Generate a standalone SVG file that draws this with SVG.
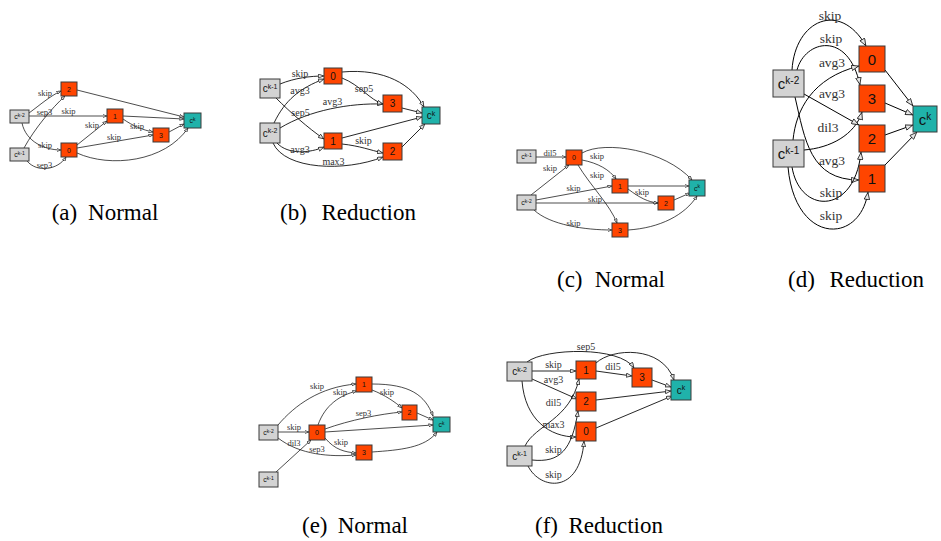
<svg xmlns="http://www.w3.org/2000/svg" width="941" height="541" viewBox="0 0 941 541">
<style>
.g{fill:#d3d3d3;stroke:#3a3a3a;stroke-width:1}
.o{fill:#ff4500;stroke:#3a3a3a;stroke-width:1}
.t{fill:#20b2aa;stroke:#3a3a3a;stroke-width:1}
.nt{font-family:"Liberation Sans",Arial,sans-serif;fill:#111;text-anchor:middle}
.s1{font-size:7px}.s2{font-size:10px}.s3{font-size:15px}
.es{fill:none;stroke:#000;stroke-width:0.7;marker-end:url(#ms)}
.em{fill:none;stroke:#000;stroke-width:0.85;marker-end:url(#mm)}
.el{fill:none;stroke:#000;stroke-width:1;marker-end:url(#ml)}
.l{font-family:"Liberation Serif","Times New Roman",serif;fill:#333;text-anchor:middle}
.l1{font-size:8.5px}.l2{font-size:10px}.l3{font-size:13.5px}
.cap{font-family:"Liberation Serif","Times New Roman",serif;font-size:23px;fill:#000}
</style>
<defs>
<marker id="ms" viewBox="0 0 10 8" refX="10" refY="4" markerWidth="4.5" markerHeight="3.6" markerUnits="userSpaceOnUse" orient="auto"><path d="M0.6,0.6 L9.4,4 L0.6,7.4 Z" fill="#e6e6e6" stroke="#000" stroke-width="1.3"/></marker>
<marker id="mm" viewBox="0 0 10 8" refX="10" refY="4" markerWidth="6" markerHeight="4.8" markerUnits="userSpaceOnUse" orient="auto"><path d="M0.6,0.6 L9.4,4 L0.6,7.4 Z" fill="#e6e6e6" stroke="#000" stroke-width="1.1"/></marker>
<marker id="ml" viewBox="0 0 10 8" refX="10" refY="4" markerWidth="8" markerHeight="6.4" markerUnits="userSpaceOnUse" orient="auto"><path d="M0.6,0.6 L9.4,4 L0.6,7.4 Z" fill="#e6e6e6" stroke="#000" stroke-width="0.9"/></marker>
</defs>
<rect width="941" height="541" fill="#fff"/>

<!-- (a) Normal -->
<g id="a-edges">
<path class="es" d="M29,113 C40,105 50,96 61,91"/>
<path class="es" d="M24,148 C35,128 52,108 65,96"/>
<path class="es" d="M29,116 L107,116"/>
<path class="es" d="M22,123 C26,142 45,150 61,150"/>
<path class="es" d="M27,161 C37,173 58,170 66,157"/>
<path class="es" d="M77,145 L107,121"/>
<path class="es" d="M77,148 L153,135"/>
<path class="es" d="M123,119 C133,126 143,130 153,132"/>
<path class="es" d="M77,90 L184,117"/>
<path class="es" d="M123,116 L184,119"/>
<path class="es" d="M169,132 L184,124"/>
<path class="es" d="M77,153 C110,168 165,162 188,128"/>
<text class="l l1" x="45" y="95.5">skip</text>
<text class="l l1" x="44.5" y="115">sep3</text>
<text class="l l1" x="68.5" y="114">skip</text>
<text class="l l1" x="92" y="128">skip</text>
<text class="l l1" x="137" y="129">skip</text>
<text class="l l1" x="114" y="140">skip</text>
<text class="l l1" x="45" y="147.5">skip</text>
<text class="l l1" x="44.5" y="168">sep3</text>
</g>
<g id="a-ck2"><rect class="g" x="10" y="110" width="19" height="13"/><text class="nt s1" x="19.5" y="119">c<tspan font-size="5" dy="-2.5">k-2</tspan></text></g>
<g id="a-ck1"><rect class="g" x="10" y="148" width="19" height="13"/><text class="nt s1" x="19.5" y="157">c<tspan font-size="5" dy="-2.5">k-1</tspan></text></g>
<g id="a-n2"><rect class="o" x="61" y="82" width="16" height="14"/><text class="nt s1" x="69" y="91.5">2</text></g>
<g id="a-n1"><rect class="o" x="107" y="109" width="16" height="14"/><text class="nt s1" x="115" y="118.5">1</text></g>
<g id="a-n0"><rect class="o" x="61" y="143" width="16" height="14"/><text class="nt s1" x="69" y="152.5">0</text></g>
<g id="a-n3"><rect class="o" x="153" y="128" width="16" height="14"/><text class="nt s1" x="161" y="137.5">3</text></g>
<g id="a-ck"><rect class="t" x="184" y="113" width="17" height="15"/><text class="nt s1" x="192.5" y="123">c<tspan font-size="5" dy="-2.5">k</tspan></text></g>
<text class="cap" y="220"><tspan x="51.7">(a)</tspan><tspan x="158.3" text-anchor="end">Normal</tspan></text>

<!-- (b) Reduction -->
<g id="b-edges">
<path class="em" d="M280,84 C295,78 310,76 324,76"/>
<path class="em" d="M274,123 C285,100 300,88 324,79"/>
<path class="em" d="M276,98 C290,112 308,128 324,139"/>
<path class="em" d="M280,128 C310,110 350,103 383,104"/>
<path class="em" d="M277,143 C288,155 310,153 324,147"/>
<path class="em" d="M273,143 C285,170 345,172 383,157"/>
<path class="em" d="M342,144 C360,146 370,150 383,153"/>
<path class="em" d="M342,78 C360,85 370,100 383,104"/>
<path class="em" d="M342,72 C385,68 412,85 424,107"/>
<path class="em" d="M402,108 L422,113"/>
<path class="em" d="M342,138 L422,117"/>
<path class="em" d="M402,147 L425,124"/>
<text class="l l2" x="300" y="77">skip</text>
<text class="l l2" x="300" y="94">avg3</text>
<text class="l l2" x="332.5" y="105">avg3</text>
<text class="l l2" x="300.5" y="115.5">sep5</text>
<text class="l l2" x="364" y="91.5">sep5</text>
<text class="l l2" x="363.5" y="144">skip</text>
<text class="l l2" x="300" y="152.5">avg3</text>
<text class="l l2" x="333.5" y="165">max3</text>
</g>
<g id="b-ck1"><rect class="g" x="260" y="79" width="20" height="19"/><text class="nt s2" x="270" y="92">c<tspan font-size="7" dy="-3.5">k-1</tspan></text></g>
<g id="b-ck2"><rect class="g" x="260" y="123" width="20" height="20"/><text class="nt s2" x="270" y="136.5">c<tspan font-size="7" dy="-3.5">k-2</tspan></text></g>
<g id="b-n0"><rect class="o" x="324" y="68" width="18" height="16"/><text class="nt s2" x="333" y="79.5">0</text></g>
<g id="b-n3"><rect class="o" x="383" y="95" width="19" height="17"/><text class="nt s2" x="392.5" y="107">3</text></g>
<g id="b-n1"><rect class="o" x="324" y="133" width="18" height="16"/><text class="nt s2" x="333" y="144.5">1</text></g>
<g id="b-n2"><rect class="o" x="383" y="143" width="19" height="17"/><text class="nt s2" x="392.5" y="155">2</text></g>
<g id="b-ck"><rect class="t" x="422" y="107" width="18" height="17"/><text class="nt s2" x="431" y="119">c<tspan font-size="7" dy="-3.5">k</tspan></text></g>
<text class="cap" y="220"><tspan x="280">(b)</tspan><tspan x="416" text-anchor="end">Reduction</tspan></text>

<!-- (c) Normal -->
<g id="c-edges">
<path class="es" d="M536,157 L566,157"/>
<path class="es" d="M531,195 L569,165"/>
<path class="es" d="M536,200 L612,186"/>
<path class="es" d="M536,203 L658,203"/>
<path class="es" d="M534,210 C550,225 585,230 612,230"/>
<path class="es" d="M582,160 C598,163 610,170 616,179"/>
<path class="es" d="M578,165 C590,185 610,205 617,223"/>
<path class="es" d="M628,189 C640,198 648,202 658,203"/>
<path class="es" d="M582,153 C605,140 665,150 692,180"/>
<path class="es" d="M628,186 L689,186"/>
<path class="es" d="M674,200 L690,193"/>
<path class="es" d="M628,230 C660,228 685,215 697,196"/>
<text class="l l1" x="550" y="156">dil5</text>
<text class="l l1" x="550" y="171">skip</text>
<text class="l l1" x="597" y="159">skip</text>
<text class="l l1" x="597" y="178">skip</text>
<text class="l l1" x="573.5" y="191">skip</text>
<text class="l l1" x="595" y="201.5">skip</text>
<text class="l l1" x="642" y="195">skip</text>
<text class="l l1" x="573.5" y="225.5">skip</text>
</g>
<g id="c-ck1"><rect class="g" x="517" y="150" width="19" height="13"/><text class="nt s1" x="526.5" y="159">c<tspan font-size="5" dy="-2.5">k-1</tspan></text></g>
<g id="c-ck2"><rect class="g" x="517" y="195" width="19" height="15"/><text class="nt s1" x="526.5" y="205">c<tspan font-size="5" dy="-2.5">k-2</tspan></text></g>
<g id="c-n0"><rect class="o" x="566" y="150" width="16" height="15"/><text class="nt s1" x="574" y="160">0</text></g>
<g id="c-n1"><rect class="o" x="612" y="179" width="16" height="14"/><text class="nt s1" x="620" y="188.5">1</text></g>
<g id="c-n2"><rect class="o" x="658" y="196" width="16" height="14"/><text class="nt s1" x="666" y="205.5">2</text></g>
<g id="c-n3"><rect class="o" x="612" y="223" width="16" height="14"/><text class="nt s1" x="620" y="232.5">3</text></g>
<g id="c-ck"><rect class="t" x="689" y="180" width="16" height="16"/><text class="nt s1" x="697" y="190.5">c<tspan font-size="5" dy="-2.5">k</tspan></text></g>
<text class="cap" y="287"><tspan x="557">(c)</tspan><tspan x="665" text-anchor="end">Normal</tspan></text>

<!-- (d) Reduction -->
<g id="d-edges">
<path class="el" d="M792,70 C795,20 840,0 866,46"/>
<path class="el" d="M797,70 C805,40 848,30 860,85"/>
<path class="el" d="M793,140 C796,110 812,78 859,66"/>
<path class="el" d="M804,150 C830,148 855,135 862,112"/>
<path class="el" d="M804,94 L859,125"/>
<path class="el" d="M795,97 C805,140 810,180 859,180"/>
<path class="el" d="M792,167 C800,215 855,215 861,152"/>
<path class="el" d="M788,167 C795,245 860,245 868,192"/>
<path class="el" d="M885,70 L913,106"/>
<path class="el" d="M885,103 L913,115"/>
<path class="el" d="M885,135 L913,125"/>
<path class="el" d="M885,165 L917,132"/>
<text class="l l3" x="830" y="19.5">skip</text>
<text class="l l3" x="831" y="42.5">skip</text>
<text class="l l3" x="832" y="66.5">avg3</text>
<text class="l l3" x="832" y="97.5">avg3</text>
<text class="l l3" x="828" y="131.5">dil3</text>
<text class="l l3" x="832" y="164.5">avg3</text>
<text class="l l3" x="831" y="196.5">skip</text>
<text class="l l3" x="831" y="219.5">skip</text>
</g>
<g id="d-ck2"><rect class="g" x="773" y="70" width="31" height="27" stroke-width="1.3"/><text class="nt s3" x="788.5" y="89">c<tspan font-size="10" dy="-5">k-2</tspan></text></g>
<g id="d-ck1"><rect class="g" x="773" y="140" width="31" height="27" stroke-width="1.3"/><text class="nt s3" x="788.5" y="159">c<tspan font-size="10" dy="-5">k-1</tspan></text></g>
<g id="d-n0"><rect class="o" x="859" y="46" width="26" height="26" stroke-width="1.3"/><text class="nt s3" x="872" y="64.5">0</text></g>
<g id="d-n3"><rect class="o" x="859" y="85" width="26" height="27" stroke-width="1.3"/><text class="nt s3" x="872" y="104">3</text></g>
<g id="d-n2"><rect class="o" x="859" y="125" width="26" height="27" stroke-width="1.3"/><text class="nt s3" x="872" y="144">2</text></g>
<g id="d-n1"><rect class="o" x="859" y="165" width="26" height="27" stroke-width="1.3"/><text class="nt s3" x="872" y="184">1</text></g>
<g id="d-ck"><rect class="t" x="913" y="106" width="24" height="26" stroke-width="1.3"/><text class="nt s3" x="925" y="124.5">c<tspan font-size="10" dy="-5">k</tspan></text></g>
<text class="cap" y="287"><tspan x="788">(d)</tspan><tspan x="924" text-anchor="end">Reduction</tspan></text>

<!-- (e) Normal -->
<g id="e-edges">
<path class="es" d="M278,425 C295,405 320,387 356,384"/>
<path class="es" d="M318,425 C325,405 340,395 357,391"/>
<path class="es" d="M278,432 L309,432"/>
<path class="es" d="M276,472 L311,440"/>
<path class="es" d="M278,438 C300,455 330,457 356,455"/>
<path class="es" d="M325,438 C335,450 345,452 356,453"/>
<path class="es" d="M325,429 C350,420 380,414 402,412"/>
<path class="es" d="M372,390 C385,395 395,402 402,408"/>
<path class="es" d="M325,432 L433,425"/>
<path class="es" d="M372,384 C410,384 425,395 433,416"/>
<path class="es" d="M417,413 L433,420"/>
<path class="es" d="M372,452 C400,450 425,448 437,432"/>
<text class="l l1" x="317" y="389">skip</text>
<text class="l l1" x="340" y="395">skip</text>
<text class="l l1" x="387" y="395">skip</text>
<text class="l l1" x="363.5" y="416">sep3</text>
<text class="l l1" x="294" y="430">skip</text>
<text class="l l1" x="294" y="446">dil3</text>
<text class="l l1" x="317" y="452">sep3</text>
<text class="l l1" x="341" y="445">skip</text>
</g>
<g id="e-ck2"><rect class="g" x="259" y="425" width="19" height="15"/><text class="nt s1" x="268.5" y="435">c<tspan font-size="5" dy="-2.5">k-2</tspan></text></g>
<g id="e-ck1"><rect class="g" x="259" y="472" width="19" height="15"/><text class="nt s1" x="268.5" y="482">c<tspan font-size="5" dy="-2.5">k-1</tspan></text></g>
<g id="e-n0"><rect class="o" x="309" y="425" width="16" height="15"/><text class="nt s1" x="317" y="435">0</text></g>
<g id="e-n1"><rect class="o" x="356" y="377" width="16" height="15"/><text class="nt s1" x="364" y="387">1</text></g>
<g id="e-n2"><rect class="o" x="402" y="405" width="15" height="15"/><text class="nt s1" x="409.5" y="415">2</text></g>
<g id="e-n3"><rect class="o" x="356" y="445" width="16" height="15"/><text class="nt s1" x="364" y="455">3</text></g>
<g id="e-ck"><rect class="t" x="433" y="417" width="17" height="15"/><text class="nt s1" x="441.5" y="427">c<tspan font-size="5" dy="-2.5">k</tspan></text></g>
<text class="cap" y="533"><tspan x="302">(e)</tspan><tspan x="408" text-anchor="end">Normal</tspan></text>

<!-- (f) Reduction -->
<g id="f-edges">
<path class="em" d="M527,362 C545,348 620,346 634,368"/>
<path class="em" d="M596,363 C612,348 662,345 674,380"/>
<path class="em" d="M532,371 L576,371"/>
<path class="em" d="M532,379 L577,399"/>
<path class="em" d="M596,371 L632,376"/>
<path class="em" d="M525,446 C535,425 570,420 579,379"/>
<path class="em" d="M522,381 C525,420 550,437 576,437"/>
<path class="em" d="M532,460 C560,463 572,450 578,411"/>
<path class="em" d="M528,466 C540,490 580,495 584,441"/>
<path class="em" d="M652,380 L671,387"/>
<path class="em" d="M596,400 L671,391"/>
<path class="em" d="M596,428 L672,396"/>
<text class="l l2" x="586" y="349.5">sep5</text>
<text class="l l2" x="553.5" y="368">skip</text>
<text class="l l2" x="553.5" y="382.5">avg3</text>
<text class="l l2" x="613" y="370">dil5</text>
<text class="l l2" x="553.5" y="406">dil5</text>
<text class="l l2" x="553.5" y="428">max3</text>
<text class="l l2" x="553.5" y="452.5">skip</text>
<text class="l l2" x="553.5" y="478">skip</text>
</g>
<g id="f-ck2"><rect class="g" x="507" y="362" width="25" height="19"/><text class="nt s2" x="519.5" y="375">c<tspan font-size="7" dy="-3.5">k-2</tspan></text></g>
<g id="f-ck1"><rect class="g" x="507" y="446" width="25" height="20"/><text class="nt s2" x="519.5" y="459.5">c<tspan font-size="7" dy="-3.5">k-1</tspan></text></g>
<g id="f-n1"><rect class="o" x="576" y="361" width="20" height="18"/><text class="nt s2" x="586" y="373.5">1</text></g>
<g id="f-n2"><rect class="o" x="576" y="392" width="20" height="19"/><text class="nt s2" x="586" y="405">2</text></g>
<g id="f-n0"><rect class="o" x="576" y="422" width="20" height="19"/><text class="nt s2" x="586" y="435">0</text></g>
<g id="f-n3"><rect class="o" x="632" y="368" width="20" height="19"/><text class="nt s2" x="642" y="381">3</text></g>
<g id="f-ck"><rect class="t" x="671" y="380" width="20" height="20"/><text class="nt s2" x="681" y="393.5">c<tspan font-size="7" dy="-3.5">k</tspan></text></g>
<text class="cap" y="533"><tspan x="535">(f)</tspan><tspan x="663" text-anchor="end">Reduction</tspan></text>
</svg>
